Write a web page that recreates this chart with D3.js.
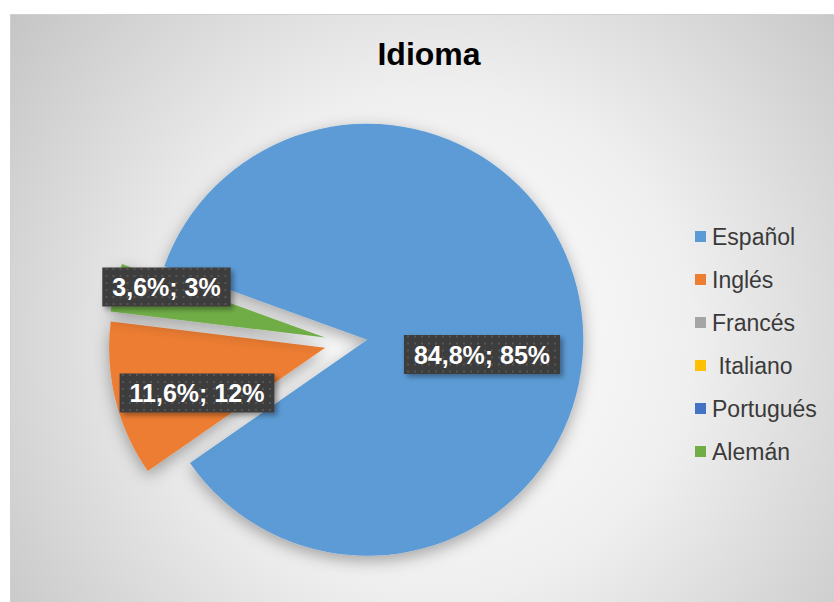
<!DOCTYPE html>
<html>
<head>
<meta charset="utf-8">
<script src="https://cdn.jsdelivr.net/npm/d3@7"></script>
<style>
  body { margin: 0; background: #ffffff; }
  svg { display: block; font-family: "Liberation Sans", Arial, sans-serif; }
</style>
</head>
<body>
<div id="chart"></div>
<script>
// data
const idiomas = ["Español", "Inglés", "Francés", " Italiano", "Portugués", "Alemán"];
const valores = [84.8, 11.6, 0, 0, 0, 3.6];
const porcentajes = ["85%", "12%", "0%", "0%", "0%", "3%"];
const colores = ["#5B9BD5", "#ED7D31", "#A5A5A5", "#FFC000", "#4472C4", "#70AD47"];

const width = 834, height = 602;

// layout
const cx = 346, cy = 342.5, radius = 216, explode = 21.5;
const firstAngle = 289.9 * Math.PI / 180;
// label centres, relative to the pie centre (hand placed like in the original)
const labelPos = {0: [136, 12], 1: [-149, 50.5], 5: [-179.5, -55.5]};

const svg = d3.select("#chart")
    .append("svg")
    .attr("width", width)
    .attr("height", height);

const defs = svg.append("defs");

// radial background
const bg = defs.append("radialGradient")
    .attr("id", "bg")
    .attr("gradientUnits", "userSpaceOnUse")
    .attr("cx", 440).attr("cy", 340).attr("r", 560);
bg.append("stop").attr("offset", 0).attr("stop-color", "#ffffff");
bg.append("stop").attr("offset", 0.45).attr("stop-color", "#efefef");
bg.append("stop").attr("offset", 1).attr("stop-color", "#c2c2c2");

// soft shadow for the slices
const sh = defs.append("filter").attr("id", "pieShadow")
    .attr("x", "-20%").attr("y", "-20%").attr("width", "140%").attr("height", "140%");
sh.append("feDropShadow")
    .attr("dx", 0).attr("dy", 5).attr("stdDeviation", 8)
    .attr("flood-color", "#000").attr("flood-opacity", 0.33);

const lsh = defs.append("filter").attr("id", "boxShadow")
    .attr("x", "-20%").attr("y", "-30%").attr("width", "140%").attr("height", "170%");
lsh.append("feDropShadow")
    .attr("dx", 3).attr("dy", 3).attr("stdDeviation", 2.5)
    .attr("flood-color", "#000").attr("flood-opacity", 0.35);

// dotted dark fill of the data labels
const pat = defs.append("pattern")
    .attr("id", "dots")
    .attr("patternUnits", "userSpaceOnUse")
    .attr("width", 7).attr("height", 7);
pat.append("rect").attr("width", 7).attr("height", 7).attr("fill", "#3e3e3e");
pat.append("rect").attr("x", 2).attr("y", 2).attr("width", 2).attr("height", 2).attr("fill", "#545454");

// chart area
svg.append("rect")
    .attr("x", 10.5).attr("y", 14.5)
    .attr("width", width + 20).attr("height", height + 20)
    .attr("fill", "url(#bg)")
    .attr("stroke", "#d0d0d0")
    .attr("stroke-width", 1);

svg.append("text")
    .attr("x", 429).attr("y", 65)
    .attr("text-anchor", "middle")
    .attr("font-size", 32)
    .attr("font-weight", "bold")
    .attr("fill", "#000")
    .text("Idioma");

const pie = d3.pie()
    .sort(null)
    .value(d => d)
    .startAngle(firstAngle)
    .endAngle(firstAngle + 2 * Math.PI);

const arcs = pie(valores);

const arc = d3.arc().innerRadius(0).outerRadius(radius);

const g = svg.append("g").attr("transform", `translate(${cx},${cy})`);

function shift(d) {
    const mid = (d.startAngle + d.endAngle) / 2;
    return [Math.sin(mid) * explode, -Math.cos(mid) * explode];
}

g.selectAll("path.slice")
    .data(arcs.filter(d => d.value > 0))
    .enter()
    .append("path")
    .attr("class", "slice")
    .attr("d", arc)
    .attr("transform", d => `translate(${shift(d)})`)
    .attr("fill", d => colores[d.index])
    .attr("filter", "url(#pieShadow)");

// data labels
const labels = g.selectAll("g.lbl")
    .data(arcs.filter(d => d.value > 0))
    .enter()
    .append("g")
    .attr("class", "lbl")
    .attr("transform", d => `translate(${labelPos[d.index]})`);

labels.each(function(d) {
    const grp = d3.select(this);
    const txt = d3.format(".1f")(d.value).replace(".", ",") + "%; " + porcentajes[d.index];
    const box = grp.append("rect").attr("fill", "url(#dots)").attr("filter", "url(#boxShadow)");
    const t = grp.append("text")
        .attr("text-anchor", "middle")
        .attr("dy", "0.36em")
        .attr("font-size", 25)
        .attr("font-weight", "bold")
        .attr("fill", "#ffffff")
        .text(txt);
    const bb = t.node().getBBox();
    box.attr("x", bb.x - 10).attr("y", -19.5)
        .attr("width", bb.width + 20).attr("height", 39);
});

// legend
const legend = svg.append("g").attr("transform", "translate(695,236.5)");
const rows = legend.selectAll("g")
    .data(idiomas)
    .enter()
    .append("g")
    .attr("transform", (d, i) => `translate(0,${i * 43})`);

rows.append("rect")
    .attr("x", 0).attr("y", -5.5)
    .attr("width", 11).attr("height", 11)
    .attr("fill", (d, i) => colores[i]);

rows.append("text")
    .attr("x", 17)
    .attr("dy", "0.36em")
    .attr("font-size", 23)
    .attr("fill", "#3a3a3a")
    .style("white-space", "pre")
    .text(d => d);
</script>
</body>
</html>
